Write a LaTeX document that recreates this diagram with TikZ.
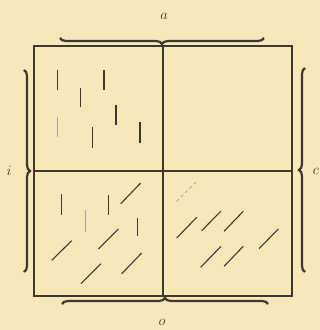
\documentclass[tikz,border=0pt]{standalone}
\usetikzlibrary{decorations.pathreplacing}
\definecolor{paper}{RGB}{246,232,184}
\definecolor{ink}{RGB}{62,56,46}
\begin{document}
\begin{tikzpicture}[x=1pt,y=-1pt,
  frame/.style={draw=ink,line width=2.4pt},
  hatch/.style={draw=ink,line width=1.1pt},
  faint/.style={draw=ink!45,line width=0.8pt},
  brc/.style={draw=ink,line width=2.2pt,decorate,decoration={brace,amplitude=6pt,raise=0pt}},
  lbl/.style={text=ink,font=\Large\itshape,inner sep=0pt}]
\fill[paper] (0,0) rectangle (320,330);
\useasboundingbox (0,0) rectangle (320,330);
% frame
\coordinate (tl) at (34,46);
\coordinate (br) at (292,296);
\coordinate (tm) at (163,46);
\coordinate (bm) at (163,296);
\coordinate (lm) at (34,171);
\coordinate (rm) at (292,171);
\draw[frame] (tl) rectangle (br);
\draw[frame] (tm) -- (bm);
\draw[frame] (lm) -- (rm);
% braces
\coordinate (ta) at (60,38); \coordinate (tb) at (264,38);
\coordinate (ba) at (268,304); \coordinate (bb) at (62,304);
\coordinate (la) at (24,272); \coordinate (lb) at (24,70);
\coordinate (ra) at (305,68); \coordinate (rb) at (305,272);
\draw[brc,decoration={mirror}] (ta) -- (tb);
\draw[brc,decoration={mirror}] (ba) -- (bb);
\draw[brc,decoration={mirror}] (la) -- (lb);
\draw[brc,decoration={mirror}] (ra) -- (rb);
% labels
\node[lbl] (a) at (164,16) {$a$};
\node[lbl] (i) at (9,171) {$i$};
\node[lbl] (c) at (316,171) {$c$};
\node[lbl] (o) at (162,322) {$o$};
% top-left cell marks
\draw[hatch] (57.7,70) -- (57.7,90);
\draw[hatch] (104,70) -- (104,90);
\draw[hatch] (80.7,88) -- (80.7,107);
\draw[hatch] (116,105) -- (116,125);
\draw[faint] (57.7,117) -- (57.7,137);
\draw[hatch] (92.7,127) -- (92.7,148);
\draw[hatch] (140,122) -- (140,143);
% bottom-left cell marks
\draw[hatch] (61.7,194) -- (61.7,215);
\draw[hatch] (108.3,195) -- (108.3,215);
\draw[faint] (85,210) -- (85,232);
\draw[hatch] (137.3,218) -- (137.3,236);
\draw[hatch] (120.7,203.7) -- (140.7,183);
\draw[hatch] (98.3,249) -- (118.3,229);
\draw[hatch] (51.7,260.3) -- (71.7,240.7);
\draw[hatch] (121.7,273.7) -- (141.7,253);
\draw[hatch] (81,283.7) -- (101,263.7);
% bottom-right cell marks
\draw[faint,dashed] (176.7,201.3) -- (196,182);
\draw[hatch] (176.7,238) -- (196.7,217.3);
\draw[hatch] (201.7,230.7) -- (220.7,211.3);
\draw[hatch] (224,231.3) -- (243.3,211.3);
\draw[hatch] (259,248.7) -- (278.3,229);
\draw[hatch] (200.7,267.3) -- (221,246.3);
\draw[hatch] (224,266.3) -- (243.3,246.3);
\end{tikzpicture}
\end{document}
